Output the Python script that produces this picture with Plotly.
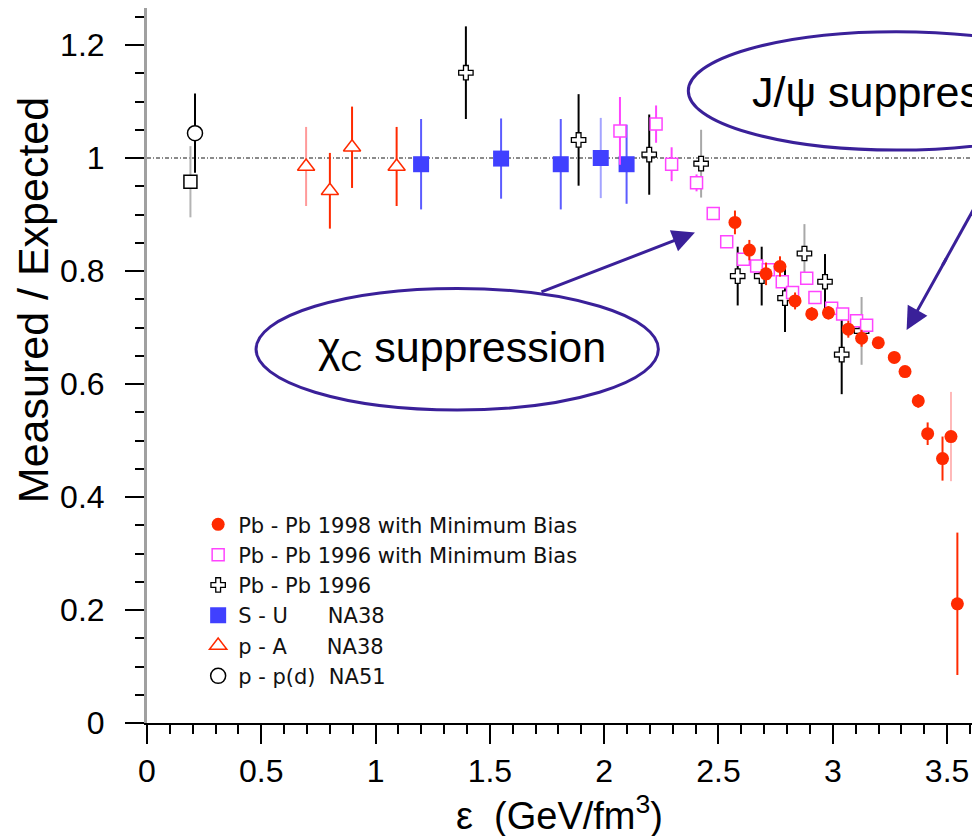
import plotly.graph_objects as go

# ---------------- data ----------------
# p - p(d) NA51
pp_x = [0.21]
pp_y = [1.044]
pp_err = [0.07]
pd_x = [0.19]
pd_y = [0.958]
pd_err = [0.063]

# p - A NA38
pA_x = [0.696, 0.80, 0.897, 1.092]
pA_y = [0.985, 0.942, 1.019, 0.985]
pA_err = [0.07, 0.067, 0.072, 0.07]
pA_light = [True, False, False, False]

# S - U NA38
SU_x = [1.199, 1.549, 1.81, 1.985, 2.098]
SU_y = [0.989, 0.999, 0.989, 1.0, 0.989]
SU_err = [0.08, 0.071, 0.08, 0.071, 0.07]
SU_light = [False, False, False, True, False]

# Pb - Pb 1996
PbC_x = [1.395, 1.888, 2.197, 2.424, 2.584, 2.689, 2.791, 2.876, 2.966, 3.039, 3.126]
PbC_y = [1.151, 1.032, 1.006, 0.990, 0.791, 0.791, 0.752, 0.831, 0.781, 0.652, 0.694]
PbC_err = [0.082, 0.081, 0.071, 0.06, 0.052, 0.052, 0.06, 0.052, 0.049, 0.07, 0.06]
PbC_light = [False, False, False, True, False, False, False, True, False, False, True]

# Pb - Pb 1996 with Minimum Bias
P96_x = [2.069, 2.227, 2.295, 2.404, 2.477, 2.536, 2.609, 2.667, 2.718, 2.779, 2.824,
         2.886, 2.922, 2.995, 3.043, 3.104, 3.148]
P96_y = [1.048, 1.06, 0.989, 0.956, 0.902, 0.852, 0.821, 0.809, 0.802, 0.781, 0.762,
         0.787, 0.753, 0.734, 0.724, 0.712, 0.704]
P96_err = [0.06, 0.033, 0.03, 0.015, 0.0, 0.0, 0.0, 0.0, 0.0, 0.0, 0.0,
           0.0, 0.0, 0.0, 0.0, 0.0, 0.0]

# Pb - Pb 1998 with Minimum Bias
P98_x = [2.572, 2.635, 2.708, 2.769, 2.835, 2.908, 2.981, 3.068, 3.126, 3.199, 3.269,
         3.316, 3.374, 3.415, 3.48, 3.517, 3.545]
P98_y = [0.886, 0.837, 0.795, 0.808, 0.747, 0.724, 0.726, 0.697, 0.681, 0.673, 0.647,
         0.622, 0.570, 0.512, 0.468, 0.507, 0.211]
P98_err = [0.021, 0.018, 0.02, 0.018, 0.015, 0.012, 0.012, 0.015, 0.015, 0.01, 0.01,
           0.01, 0.012, 0.02, 0.039, 0.079, 0.126]
P98_light = [False] * 15 + [True, False]

x_ticks = [0, 0.5, 1, 1.5, 2, 2.5, 3, 3.5]
x_ticklabels = ["0", "0.5", "1", "1.5", "2", "2.5", "3", "3.5"]
y_ticks = [0, 0.2, 0.4, 0.6, 0.8, 1.0, 1.2]
y_ticklabels = ["0", "0.2", "0.4", "0.6", "0.8", "1", "1.2"]

# ---------------- styling ----------------
RED = "#ff2a00"
MAG = "#ff44ff"
BLUE = "#4040ff"
INDIGO = "#3a2099"
FONT = "Liberation Sans, Arial, Helvetica, sans-serif"

fig = go.Figure()


def add_series(name, x, y, err, light, marker, barcol, lightcol, showlegend=True):
    groups = {}
    for i in range(len(x)):
        key = bool(light[i]) if light is not None else False
        groups.setdefault(key, []).append(i)
    first = True
    for key in sorted(groups.keys()):
        idx = groups[key]
        fig.add_trace(go.Scatter(
            x=[x[i] for i in idx], y=[y[i] for i in idx],
            mode="markers", name=name,
            marker=marker,
            error_y=dict(type="data", array=[err[i] for i in idx], visible=True,
                         color=lightcol if key else barcol, thickness=2, width=0),
            showlegend=(showlegend and not key and first),
            legendgroup=name,
        ))
        if not key:
            first = False


# draw order: bottom -> top
add_series("p\u00a0-\u00a0p(d)\u00a0\u00a0NA51", pp_x, pp_y, pp_err, None,
           dict(symbol="circle", size=15, color="white", line=dict(color="black", width=1.5)),
           "black", "black")
add_series("p - d", pd_x, pd_y, pd_err, None,
           dict(symbol="square", size=13, color="white", line=dict(color="black", width=1.5)),
           "#b4b4b4", "#b4b4b4", showlegend=False)
add_series("p - A\u00a0\u00a0\u00a0\u00a0\u00a0\u00a0NA38", pA_x, pA_y, pA_err, pA_light,
           dict(symbol="triangle-up", size=15, color="white", line=dict(color=RED, width=1.5)),
           RED, "#ff9a9a")
add_series("S - U\u00a0\u00a0\u00a0\u00a0\u00a0\u00a0NA38", SU_x, SU_y, SU_err, SU_light,
           dict(symbol="square", size=16, color=BLUE, line=dict(color=BLUE, width=0)),
           "#5c5cff", "#a4a4ff")
add_series("Pb - Pb 1996", PbC_x, PbC_y, PbC_err, PbC_light,
           dict(symbol="cross", size=12, color="white", line=dict(color="black", width=1.3)),
           "black", "#a8a8a8")
add_series("Pb - Pb 1996 with Minimum Bias", P96_x, P96_y, P96_err, None,
           dict(symbol="square", size=12, color="white", line=dict(color=MAG, width=1.5)),
           MAG, MAG)
add_series("Pb - Pb 1998 with Minimum Bias", P98_x, P98_y, P98_err, P98_light,
           dict(symbol="circle", size=13, color=RED, line=dict(color=RED, width=0)),
           RED, "#ffb8b8")

fig.update_layout(
    width=972, height=836,
    margin=dict(l=147, r=0, t=8, b=113),
    plot_bgcolor="white", paper_bgcolor="white",
    font=dict(family=FONT, color="black"),
    showlegend=True,
    legend=dict(
        x=0.062, y=0.306, xanchor="left", yanchor="top",
        traceorder="reversed", bgcolor="rgba(0,0,0,0)",
        font=dict(family="DejaVu Sans, sans-serif", size=21, color="#111"),
        itemwidth=30, tracegroupgap=0,
    ),
    xaxis=dict(
        range=[0, 3.609], tickvals=x_ticks, ticktext=x_ticklabels,
        ticks="outside", ticklen=19, tickwidth=1.5, tickcolor="black",
        showline=True, linecolor="black", linewidth=2,
        minor=dict(dtick=0.1, tick0=0, ticks="outside", ticklen=9, tickwidth=1.5, tickcolor="black"),
        showgrid=False, zeroline=False,
        tickfont=dict(size=32, family=FONT), ticklabelstandoff=0,
    ),
    yaxis=dict(
        range=[0, 1.2655], tickvals=y_ticks, ticktext=y_ticklabels,
        ticks="outside", ticklen=19, tickwidth=1.5, tickcolor="black",
        showline=True, linecolor="#a0a0a0", linewidth=3,
        minor=dict(dtick=0.05, tick0=0, ticks="outside", ticklen=9, tickwidth=1.5, tickcolor="black"),
        showgrid=False, zeroline=False,
        tickfont=dict(size=32, family=FONT), ticklabelstandoff=14,
    ),
)

# reference line at 1
fig.add_shape(type="line", xref="paper", x0=0, x1=1, yref="y", y0=1, y1=1,
              line=dict(color="#666666", width=1.5, dash="4px,2px,1px,2px"), layer="below")

# ellipses
fig.add_shape(type="circle", xref="x", yref="y", x0=0.477, x1=2.237, y0=0.554, y1=0.769,
              line=dict(color=INDIGO, width=3))
fig.add_shape(type="circle", xref="x", yref="y", x0=2.368, x1=4.186, y0=1.014, y1=1.2236,
              line=dict(color=INDIGO, width=3))

# axis titles
fig.add_annotation(text="Measured / Expected", textangle=-90, xref="paper", yref="paper",
                   x=-0.138, y=0.5916, xanchor="center", yanchor="middle", showarrow=False,
                   font=dict(size=43, family=FONT, color="black"))
fig.add_annotation(text="\u03b5\u00a0\u00a0(GeV/fm<sup>3</sup>)", xref="paper", yref="paper",
                   x=0.5, y=-0.126, xanchor="center", yanchor="middle", showarrow=False,
                   font=dict(size=38, family=FONT, color="black"))

# ellipse texts
fig.add_annotation(text="\u03c7<sub>C</sub> suppression", xref="x", yref="y",
                   x=1.38, y=0.66, xanchor="center", yanchor="middle", showarrow=False,
                   font=dict(size=43, family=FONT, color="black"))
fig.add_annotation(text="J/\u03c8 suppression", xref="x", yref="y",
                   x=2.638, y=1.117, xanchor="left", yanchor="middle", showarrow=False,
                   font=dict(size=43, family=FONT, color="black"))

# arrows
fig.add_annotation(text="", x=2.397, y=0.868, xref="x", yref="y",
                   ax=1.719, ay=0.762, axref="x", ayref="y",
                   showarrow=True, arrowhead=2, arrowsize=1.5, arrowwidth=3, arrowcolor=INDIGO,
                   standoff=0, startstandoff=0)
fig.add_shape(type="line", xref="x", yref="y", x0=3.48, y0=0.810, x1=3.76, y1=1.0142,
              line=dict(color=INDIGO, width=3))
fig.add_annotation(text="", x=3.323, y=0.6956, xref="x", yref="y",
                   ax=3.50, ay=0.8245, axref="x", ayref="y",
                   showarrow=True, arrowhead=2, arrowsize=1.5, arrowwidth=3, arrowcolor=INDIGO,
                   standoff=0, startstandoff=0)

fig.write_html("out.html")
